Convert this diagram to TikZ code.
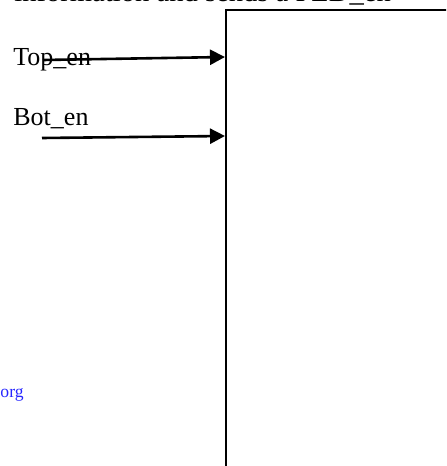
\documentclass[tikz,border=0pt]{standalone}
\usepackage{fontspec}
\setmainfont{Liberation Serif}
\usetikzlibrary{arrows.meta}
\begin{document}
\begin{tikzpicture}[x=0.5pt,y=-0.5pt,
  lbl/.style={anchor=base west,inner sep=0pt,font=\fontsize{13}{15}\selectfont},
  head/.style={anchor=base west,inner sep=0pt,font=\fontsize{14.3}{16}\selectfont},
  link/.style={anchor=base east,inner sep=0pt,text=blue!85!white,font=\fontsize{8.8}{10}\selectfont},
  sig/.style={line width=1.3pt,-{Triangle[length=7.5pt,width=7.5pt]}},
  blk/.style={draw,line width=1.1pt,minimum width=200pt,minimum height=300pt,anchor=north west,inner sep=0pt}]
\useasboundingbox (0,0) rectangle (446,466);
\clip (0,0) rectangle (446,466);
\node[blk] (box) at (225,9) {};
\node[head] (title) at (14,1.5) {information and sends a PLD\_en};
\node[lbl] (top) at (13,65) {Top\_en};
\node[lbl] (bot) at (13,125) {Bot\_en};
\node[link] (org) at (24,397) {org};
\coordinate (t1) at (43,60);
\coordinate (h1) at (225,57);
\coordinate (t2) at (42,138);
\coordinate (h2) at (225,136);
\draw[sig] (t1) -- (h1);
\draw[sig] (t2) -- (h2);
\end{tikzpicture}
\end{document}
